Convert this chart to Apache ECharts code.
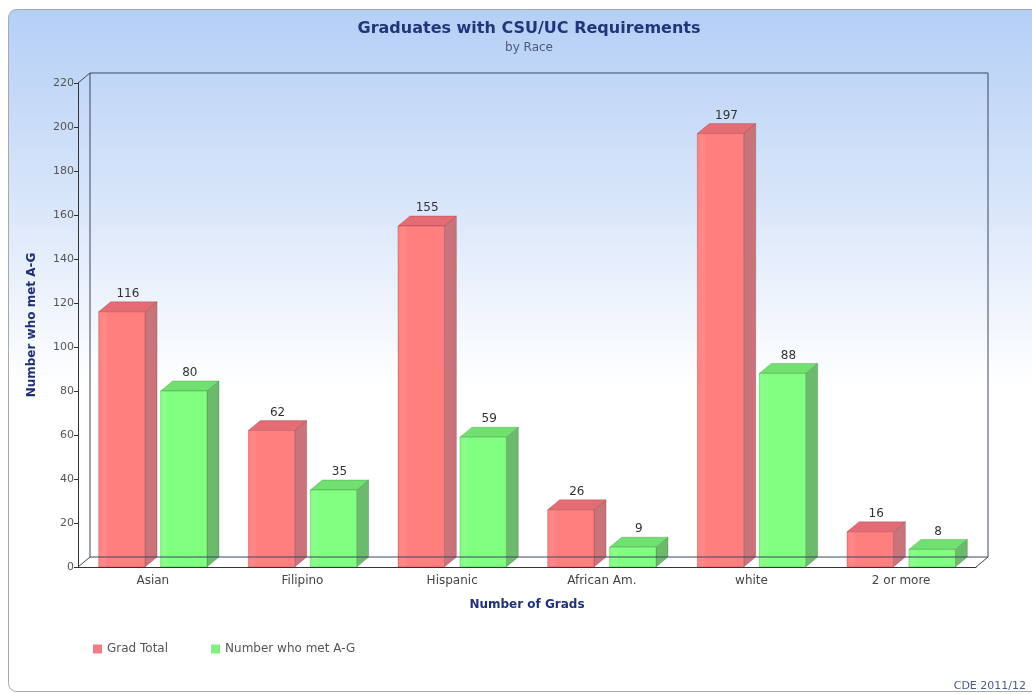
<!DOCTYPE html>
<html>
<head>
<meta charset="utf-8">
<script src="https://cdn.jsdelivr.net/npm/echarts@6/dist/echarts.min.js"></script>
<style>
html,body{margin:0;padding:0;background:#fff;}
#chart{width:1032px;height:694px;}
</style>
</head>
<body>
<div id="chart"></div>
<script>
const categories = ['Asian', 'Filipino', 'Hispanic', 'African Am.', 'white', '2 or more'];
const gradTotal = [116, 62, 155, 26, 197, 16];
const metAG = [80, 35, 59, 9, 88, 8];
const yTicks = { min: 0, max: 220, interval: 20 };

const DX = 12, DY = -10;
const FONT = 'DejaVu Sans, Verdana, sans-serif';

function barRenderer(offsetFrac, colors) {
  return function (params, api) {
    const ci = api.value(0), v = api.value(1);
    const top = api.coord([ci, v]);
    const base = api.coord([ci, 0]);
    const band = api.size([1, 0])[0];
    const w = band * 0.31;
    const cx = top[0] + offsetFrac * band;
    const x0 = cx - w / 2, x1 = cx + w / 2;
    const yt = top[1], yb = base[1];
    return {
      type: 'group',
      children: [
        { type: 'polygon', shape: { points: [[x1, yt], [x1 + DX, yt + DY], [x1 + DX, yb + DY], [x1, yb]] },
          style: { fill: colors.side, stroke: colors.edge, lineWidth: 0.6 } },
        { type: 'polygon', shape: { points: [[x0, yt], [x0 + DX, yt + DY], [x1 + DX, yt + DY], [x1, yt]] },
          style: { fill: colors.top, stroke: colors.edge, lineWidth: 0.6 } },
        { type: 'rect', shape: { x: x0, y: yt, width: w, height: yb - yt },
          style: { fill: { type: 'linear', x: 0, y: 0, x2: 1, y2: 0,
            colorStops: [{ offset: 0, color: colors.front }, { offset: 0.12, color: colors.hi }, { offset: 0.2, color: colors.front }, { offset: 1, color: colors.front }] },
            stroke: colors.edge, lineWidth: 0.6 } },
        { type: 'text', style: { x: cx + DX / 2, y: yt + DY - 2, text: String(v), align: 'center', verticalAlign: 'bottom',
          fill: '#333', font: '12px ' + FONT } }
      ]
    };
  };
}

const chart = echarts.init(document.getElementById('chart'));
const option = {
  backgroundColor: '#ffffff',
  animation: false,
  graphic: [
    { type: 'rect', z: -10, shape: { x: 8.5, y: 9.5, width: 1040, height: 682, r: 8 },
      style: { fill: { type: 'linear', x: 0, y: 0, x2: 0, y2: 1,
        colorStops: [{ offset: 0, color: '#b4cff6' }, { offset: 0.25, color: '#d4e3f9' }, { offset: 0.55, color: '#ffffff' }, { offset: 1, color: '#ffffff' }] },
        stroke: '#a9a9a9', lineWidth: 1 } },
    { type: 'text', right: 6, bottom: 2, style: { text: 'CDE 2011/12', fill: '#4b5a8c', font: '11px ' + FONT } }
  ],
  title: {
    text: 'Graduates with CSU/UC Requirements',
    subtext: 'by Race',
    left: 524, textAlign: 'center', top: 16,
    itemGap: 5,
    textStyle: { fontFamily: FONT, fontSize: 16, fontWeight: 'bold', color: '#22357a' },
    subtextStyle: { fontFamily: FONT, fontSize: 12, color: '#4e5a7a' }
  },
  legend: {
    left: 88, top: 638,
    icon: 'rect', itemWidth: 9, itemHeight: 9, itemGap: 43,
    textStyle: { fontFamily: FONT, fontSize: 12, color: '#555' },
    data: ['Grad Total', 'Number who met A-G']
  },
  grid: { left: 78, right: 56, top: 83, bottom: 127 },
  xAxis: {
    type: 'category', data: categories,
    name: 'Number of Grads', nameLocation: 'middle', nameGap: 32,
    nameTextStyle: { fontFamily: FONT, fontSize: 12, fontWeight: 'bold', color: '#1f2f7a' },
    axisLine: { lineStyle: { color: '#333', width: 1 } },
    axisTick: { alignWithLabel: true, length: 4, lineStyle: { color: '#333' } },
    axisLabel: { fontFamily: FONT, fontSize: 12, color: '#444', margin: 8 }
  },
  yAxis: {
    type: 'value', min: yTicks.min, max: yTicks.max, interval: yTicks.interval,
    name: 'Number who met A-G', nameLocation: 'middle', nameGap: 40, nameRotate: 90,
    nameTextStyle: { fontFamily: FONT, fontSize: 12, fontWeight: 'bold', color: '#1f2f7a' },
    axisLine: { show: true, lineStyle: { color: '#333', width: 1 } },
    axisTick: { show: true, length: 4, lineStyle: { color: '#333' } },
    axisLabel: { fontFamily: FONT, fontSize: 11, color: '#555', margin: 4 },
    splitLine: { show: false }
  },
  series: [
    {
      name: 'Grad Total', type: 'custom', z: 2,
      itemStyle: { color: '#f07f85' },
      renderItem: barRenderer(-0.207, { front: '#ff7f7f', hi: '#ff8a8a', side: '#c9737a', top: '#e56c74', edge: 'rgba(120,40,40,0.45)' }),
      encode: { x: 0, y: 1 },
      data: gradTotal.map((v, i) => [i, v])
    },
    {
      name: 'Number who met A-G', type: 'custom', z: 2,
      itemStyle: { color: '#80f080' },
      renderItem: barRenderer(0.207, { front: '#80ff80', hi: '#8cff8c', side: '#6cbb6c', top: '#70e070', edge: 'rgba(40,110,40,0.45)' }),
      encode: { x: 0, y: 1 },
      data: metAG.map((v, i) => [i, v])
    },
    {
      name: 'frame', type: 'custom', z: 5, silent: true,
      renderItem: function (params, api) {
        const cs = params.coordSys;
        const x = cs.x, y = cs.y, w = cs.width, h = cs.height;
        const st = { stroke: '#3b4660', lineWidth: 1, fill: null };
        const line = (a, b, c, d) => ({ type: 'line', shape: { x1: a, y1: b, x2: c, y2: d }, style: st });
        return {
          type: 'group',
          children: [
            line(x + DX, y + DY, x + w + DX, y + DY),
            line(x + DX, y + DY, x + DX, y + h + DY),
            line(x + w + DX, y + DY, x + w + DX, y + h + DY),
            line(x + DX, y + h + DY, x + w + DX, y + h + DY),
            line(x, y + h, x + DX, y + h + DY),
            line(x + w, y + h, x + w + DX, y + h + DY),
            line(x, y, x + DX, y + DY)
          ]
        };
      },
      data: [[0, 0]]
    }
  ]
};
chart.setOption(option);
</script>
</body>
</html>
